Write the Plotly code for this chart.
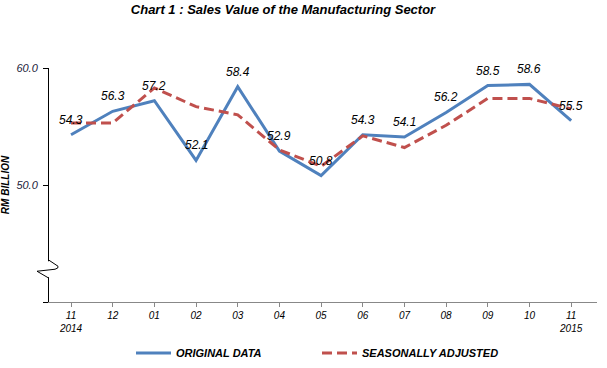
import plotly.graph_objects as go

months = ["11<br>2014", "12", "01", "02", "03", "04", "05", "06", "07", "08", "09", "10", "11<br>2015"]
original = [54.3, 56.3, 57.2, 52.1, 58.4, 52.9, 50.8, 54.3, 54.1, 56.2, 58.5, 58.6, 55.5]
seasonal = [55.3, 55.3, 58.3, 56.7, 56.0, 53.0, 51.6, 54.2, 53.2, 55.1, 57.4, 57.4, 56.5]
y_ticks = [40, 50, 60]
y_ticktext = ["", "50.0", "60.0"]

BLUE = "#4F81BD"
RED = "#C0504D"
FONT = "Liberation Sans, Arial, sans-serif"

fig = go.Figure()
fig.add_trace(go.Scatter(x=months, y=original, mode="lines", name="ORIGINAL DATA",
                         line=dict(color=BLUE, width=3)))
fig.add_trace(go.Scatter(x=months, y=seasonal, mode="lines", name="SEASONALLY ADJUSTED",
                         line=dict(color=RED, width=3, dash="10px,5px")))

for i, v in enumerate(original):
    fig.add_annotation(x=i, y=v, text=f"{v:.1f}", showarrow=False, yshift=15,
                       font=dict(family=FONT, size=12, color="black", style="italic"))

# axis break marker
fig.add_shape(type="rect", xref="paper", yref="y", xsizemode="pixel", ysizemode="pixel",
              xanchor=0, yanchor=42.8, x0=-3, x1=3, y0=-8, y1=8,
              fillcolor="white", line=dict(width=0), layer="above")
fig.add_shape(type="path", xref="paper", yref="y", xsizemode="pixel", ysizemode="pixel",
              xanchor=0, yanchor=42.8,
              path="M 0 9 L 9 3 Q 10 1 6 0 L -12 -2 L 0 -9",
              line=dict(color="black", width=1), layer="above")

fig.update_layout(
    width=607, height=368,
    margin=dict(l=49, r=10, t=68, b=66),
    paper_bgcolor="white", plot_bgcolor="white",
    font=dict(family=FONT, color="black"),
    title=dict(text="Chart 1 : Sales Value of the Manufacturing Sector",
               x=283 / 607, xref="container", xanchor="center",
               y=1 - 9 / 368, yref="container", yanchor="middle", automargin=False,
               font=dict(family=FONT, size=13, color="black", style="italic", weight="bold")),
    showlegend=True,
    legend=dict(orientation="h", xref="container", yref="container",
                x=131 / 607, y=1 - 353 / 368, xanchor="left", yanchor="middle",
                entrywidth=136, entrywidthmode="pixels", itemwidth=35,
                font=dict(family=FONT, size=11, color="black", style="italic", weight="bold")),
)
fig.update_xaxes(type="category", range=[-0.528, 12.62], showgrid=False, automargin=False,
                 showline=True, linecolor="#888888", linewidth=1,
                 ticks="outside", ticklen=4, tickcolor="#888888",
                 tickfont=dict(family=FONT, size=10, color="black", style="italic"),
                 tickangle=0, zeroline=False)
fig.update_yaxes(range=[40, 60], tickvals=y_ticks, ticktext=y_ticktext, showgrid=False,
                 automargin=False,
                 showline=True, linecolor="black", linewidth=1,
                 ticks="outside", ticklen=5, tickcolor="black", ticklabelstandoff=3,
                 tickfont=dict(family=FONT, size=11, color="#1a1a3a", style="italic"),
                 title=dict(text="RM BILLION", standoff=8,
                            font=dict(family=FONT, size=10, color="black", style="italic", weight="bold")),
                 zeroline=False)

fig.write_html("out.html", config={"displayModeBar": False},
               post_script="document.body.style.margin='0';document.body.style.overflow='hidden';")
